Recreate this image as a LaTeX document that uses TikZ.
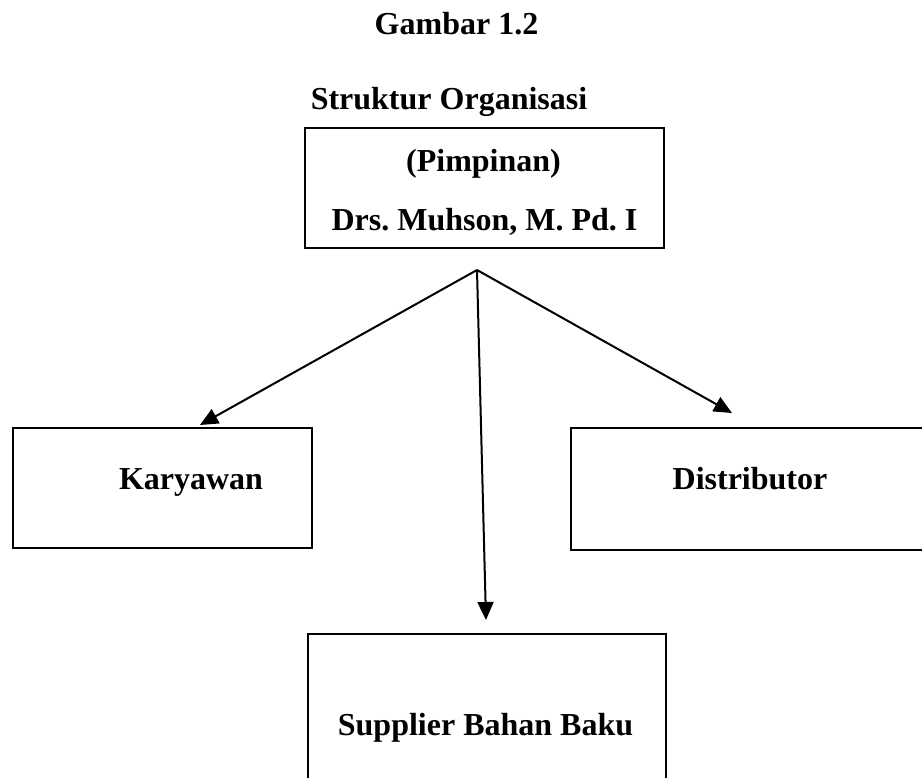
\documentclass[tikz,border=0pt]{standalone}
\usepackage{fontspec}
\setmainfont{Liberation Serif}
\usetikzlibrary{arrows.meta}
\frenchspacing
\begin{document}
\begin{tikzpicture}[x=1pt,y=-1pt,
  txt/.style={font=\fontsize{32}{38}\selectfont\bfseries, inner sep=0pt, anchor=base},
  box/.style={draw, line width=2.2pt, inner sep=0pt, anchor=north west},
  conn/.style={line width=2pt, -{Triangle[length=18pt,width=16pt]}}]
\useasboundingbox (0,0) rectangle (922,778);
\clip (0,0) rectangle (922,778);
\node[txt] (title) at (456.5,35) {Gambar 1.2};
\node[txt] (sub) at (449,110) {Struktur Organisasi};
\node[box, minimum width=359pt, minimum height=120pt] (top) at (304,127) {};
\node[txt] (t1) at (483.5,172) {(Pimpinan)};
\node[txt] (t2) at (484.5,231) {Drs. Muhson, M. Pd. I};
\node[box, minimum width=299pt, minimum height=120pt] (kbox) at (12,427) {};
\node[txt] (ktxt) at (191,489) {Karyawan};
\node[box, minimum width=370pt, minimum height=122pt] (dbox) at (570,427) {};
\node[txt] (dtxt) at (750,489) {Distributor};
\node[box, minimum width=358pt, minimum height=170pt] (sbox) at (307,633) {};
\node[txt] (stxt) at (485.5,735) {Supplier Bahan Baku};
\coordinate (o) at (477,270);
\coordinate (ka) at (200,425);
\coordinate (su) at (486,620);
\coordinate (di) at (732,413);
\draw[conn] (o) -- (ka);
\draw[conn] (o) -- (su);
\draw[conn] (o) -- (di);
\end{tikzpicture}
\end{document}
